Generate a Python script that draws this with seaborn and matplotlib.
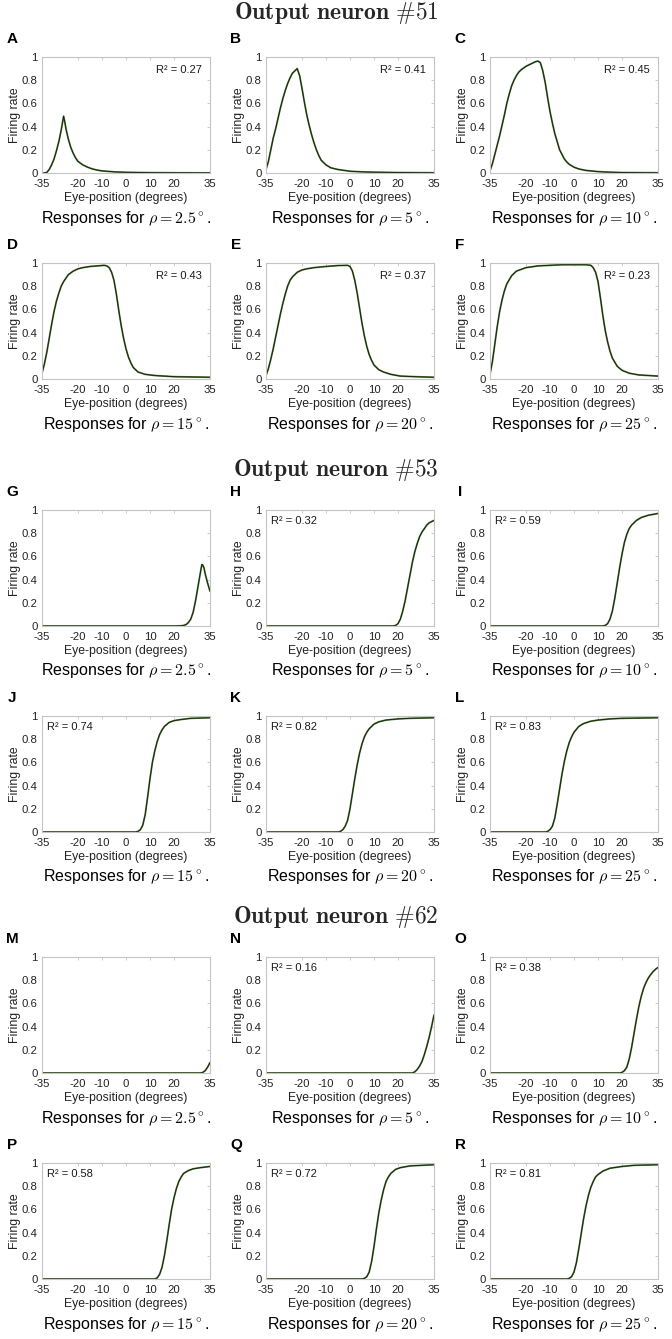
import matplotlib
matplotlib.use("Agg")
import matplotlib.pyplot as plt
import seaborn as sns

# figure size in pixels
W, H = 672, 1339

neurons = ["51", "53", "62"]
rhos = ["2.5", "5", "10", "15", "20", "25"]
letters = list("ABCDEFGHIJKLMNOPQR")
r2_values = [0.27, 0.41, 0.45, 0.43, 0.37, 0.23,
             None, 0.32, 0.59, 0.74, 0.82, 0.83,
             None, 0.16, 0.38, 0.58, 0.72, 0.81]
xticks = [-35, -20, -10, 0, 10, 20, 35]
yticks = [0, 0.2, 0.4, 0.6, 0.8, 1]

# ---- neuron 51 ----
a_x = [-35, -34, -33, -32, -31, -30, -29, -28, -27, -26.5, -26, -25.5, -25, -24, -23, -22, -21, -20, -18, -16, -14, -12, -10, -5, 0, 10, 20, 35]
a_y = [0, 0, 0.005, 0.03, 0.07, 0.12, 0.19, 0.27, 0.37, 0.43, 0.49, 0.44, 0.38, 0.29, 0.22, 0.17, 0.13, 0.10, 0.07, 0.05, 0.035, 0.025, 0.018, 0.01, 0.006, 0.003, 0.002, 0.001]

b_x = [-35, -34, -33, -32, -31, -30, -29, -28, -27, -26, -25, -24, -23, -22, -21, -20, -19, -18, -17, -16, -15, -14, -13, -12, -10, -8, -5, 0, 5, 10, 20, 35]
b_y = [0.03, 0.1, 0.2, 0.3, 0.38, 0.47, 0.56, 0.64, 0.71, 0.77, 0.82, 0.86, 0.88, 0.9, 0.84, 0.73, 0.61, 0.5, 0.41, 0.33, 0.26, 0.2, 0.15, 0.11, 0.07, 0.045, 0.03, 0.015, 0.01, 0.007, 0.004, 0.002]

c_x = [-35, -34, -33, -32, -31, -30, -29, -28, -27, -26, -25, -24, -23, -22, -20, -18, -16, -15, -14, -13, -12, -11, -10, -9, -8, -7, -6, -5, -4, -3, -2, 0, 2, 5, 10, 15, 20, 35]
c_y = [0.02, 0.08, 0.16, 0.24, 0.32, 0.41, 0.5, 0.6, 0.68, 0.75, 0.8, 0.84, 0.87, 0.89, 0.92, 0.94, 0.96, 0.965, 0.95, 0.88, 0.78, 0.65, 0.53, 0.43, 0.34, 0.27, 0.2, 0.16, 0.12, 0.095, 0.075, 0.05, 0.035, 0.022, 0.012, 0.007, 0.004, 0.002]

d_x = [-35, -34, -33, -32, -31, -30, -29, -28, -27, -26, -24, -22, -20, -18, -15, -12, -9, -8, -7, -6, -5, -4, -3, -2, -1, 0, 1, 2, 3, 5, 8, 12, 20, 35]
d_y = [0.05, 0.13, 0.23, 0.35, 0.47, 0.58, 0.67, 0.74, 0.8, 0.84, 0.9, 0.93, 0.95, 0.96, 0.97, 0.975, 0.98, 0.975, 0.96, 0.92, 0.85, 0.73, 0.59, 0.46, 0.35, 0.26, 0.19, 0.14, 0.1, 0.06, 0.04, 0.03, 0.02, 0.015]

e_x = [-35, -34, -33, -32, -31, -30, -29, -28, -27, -26, -25, -24, -22, -20, -18, -15, -10, -5, -1, 0, 1, 2, 3, 4, 5, 6, 7, 8, 9, 10, 11, 12, 14, 17, 21, 27, 35]
e_y = [0.03, 0.09, 0.17, 0.26, 0.36, 0.46, 0.56, 0.65, 0.73, 0.8, 0.85, 0.88, 0.92, 0.94, 0.95, 0.96, 0.97, 0.978, 0.98, 0.97, 0.93, 0.85, 0.74, 0.61, 0.48, 0.37, 0.28, 0.21, 0.16, 0.12, 0.1, 0.08, 0.06, 0.04, 0.025, 0.02, 0.015]

f_x = [-35, -34, -33, -32, -31, -30, -29, -28, -26, -24, -20, -15, -5, 5, 7, 8, 9, 10, 11, 12, 13, 14, 15, 16, 18, 20, 23, 27, 31, 35]
f_y = [0.04, 0.15, 0.3, 0.45, 0.58, 0.68, 0.76, 0.82, 0.89, 0.93, 0.96, 0.975, 0.985, 0.985, 0.98, 0.96, 0.92, 0.84, 0.7, 0.55, 0.42, 0.32, 0.24, 0.18, 0.11, 0.075, 0.05, 0.035, 0.03, 0.025]

# ---- neuron 53 ----
g_x = [-35, 20, 23, 24, 25, 26, 27, 28, 29, 30, 31, 31.6, 32, 32.5, 33, 34, 35]
g_y = [0, 0, 0.002, 0.005, 0.012, 0.03, 0.06, 0.12, 0.22, 0.34, 0.46, 0.53, 0.525, 0.5, 0.45, 0.37, 0.3]

h_x = [-35, 18, 19, 20, 21, 22, 23, 24, 25, 26, 27, 28, 29, 30, 31, 32, 33, 34, 35]
h_y = [0, 0, 0.005, 0.02, 0.06, 0.13, 0.22, 0.33, 0.44, 0.55, 0.64, 0.71, 0.77, 0.81, 0.84, 0.87, 0.89, 0.9, 0.91]

i_x = [-35, 12, 13, 14, 15, 16, 17, 18, 19, 20, 21, 22, 23, 24, 26, 28, 31, 35]
i_y = [0, 0, 0.005, 0.02, 0.06, 0.13, 0.24, 0.37, 0.5, 0.62, 0.72, 0.79, 0.84, 0.87, 0.91, 0.935, 0.955, 0.97]

j_x = [-35, 4, 5, 6, 7, 8, 9, 10, 11, 12, 13, 14, 15, 16, 18, 20, 23, 27, 35]
j_y = [0, 0, 0.005, 0.02, 0.06, 0.15, 0.3, 0.46, 0.6, 0.7, 0.78, 0.84, 0.88, 0.91, 0.945, 0.96, 0.97, 0.98, 0.985]

k_x = [-35, -5, -4, -3, -2, -1, 0, 1, 2, 3, 4, 5, 6, 7, 8, 10, 12, 15, 20, 25, 35]
k_y = [0, 0, 0.005, 0.02, 0.05, 0.1, 0.2, 0.33, 0.46, 0.58, 0.68, 0.76, 0.82, 0.86, 0.89, 0.93, 0.95, 0.965, 0.975, 0.98, 0.985]

l_x = [-35, -12, -11, -10, -9, -8, -7, -6, -5, -4, -3, -2, -1, 0, 2, 4, 7, 10, 15, 20, 35]
l_y = [0, 0, 0.005, 0.02, 0.05, 0.12, 0.24, 0.37, 0.5, 0.61, 0.7, 0.77, 0.82, 0.86, 0.91, 0.935, 0.955, 0.965, 0.975, 0.98, 0.985]

# ---- neuron 62 ----
m_x = [-35, 31, 32, 33, 34, 35]
m_y = [0, 0, 0.005, 0.02, 0.05, 0.09]

n_x = [-35, 26, 27, 28, 29, 30, 31, 32, 33, 34, 35]
n_y = [0, 0, 0.01, 0.03, 0.06, 0.1, 0.16, 0.23, 0.31, 0.4, 0.5]

o_x = [-35, 19, 20, 21, 22, 23, 24, 25, 26, 27, 28, 29, 30, 31, 32, 33, 34, 35]
o_y = [0, 0, 0.005, 0.02, 0.05, 0.12, 0.22, 0.34, 0.46, 0.57, 0.66, 0.73, 0.78, 0.82, 0.85, 0.875, 0.895, 0.91]

p_x = [-35, 12, 13, 14, 15, 16, 17, 18, 19, 20, 21, 22, 23, 24, 26, 28, 31, 35]
p_y = [0, 0, 0.01, 0.04, 0.1, 0.2, 0.33, 0.47, 0.6, 0.7, 0.78, 0.84, 0.88, 0.91, 0.935, 0.95, 0.96, 0.97]

q_x = [-35, 5, 6, 7, 8, 9, 10, 11, 12, 13, 14, 15, 16, 17, 19, 21, 25, 30, 35]
q_y = [0, 0, 0.005, 0.02, 0.06, 0.15, 0.28, 0.43, 0.57, 0.68, 0.77, 0.84, 0.88, 0.91, 0.945, 0.96, 0.975, 0.98, 0.985]

r_x = [-35, -3, -2, -1, 0, 1, 2, 3, 4, 5, 6, 7, 8, 9, 10, 12, 15, 20, 25, 35]
r_y = [0, 0, 0.005, 0.02, 0.06, 0.14, 0.26, 0.39, 0.52, 0.63, 0.72, 0.79, 0.84, 0.88, 0.9, 0.93, 0.955, 0.97, 0.98, 0.985]

curves = [(a_x, a_y), (b_x, b_y), (c_x, c_y), (d_x, d_y), (e_x, e_y), (f_x, f_y),
          (g_x, g_y), (h_x, h_y), (i_x, i_y), (j_x, j_y), (k_x, k_y), (l_x, l_y),
          (m_x, m_y), (n_x, n_y), (o_x, o_y), (p_x, p_y), (q_x, q_y), (r_x, r_y)]

sns.set_theme(style="white")
plt.rcParams['font.family'] = ['Liberation Sans', 'DejaVu Sans']
plt.rcParams['mathtext.fontset'] = 'cm'
plt.rcParams['axes.unicode_minus'] = False

fig = plt.figure(figsize=(W / 100, H / 100), dpi=100)

col_left = [42, 266, 490]
row_top = [57, 263, 510, 716, 957, 1163]
title_y = [13, 470, 917]
ax_w, ax_h = 168, 116
frame = '#c4c4c4'
text_col = '#222222'

for g, neuron in enumerate(neurons):
    fig.text(0.5, 1 - title_y[g] / H, r'$\mathbf{Output\ neuron\ \#' + neuron + '}$',
             ha='center', va='center', fontsize=17)

for i, (xs, ys) in enumerate(curves):
    g, k = divmod(i, 6)
    r, c = divmod(k, 3)
    left, top = col_left[c], row_top[g * 2 + r]
    ax = fig.add_axes([left / W, 1 - (top + ax_h) / H, ax_w / W, ax_h / H])

    sns.lineplot(x=xs, y=ys, ax=ax, color='#5d8a45', lw=1.3, sort=False)
    sns.lineplot(x=xs, y=ys, ax=ax, color='#18220f', lw=0.7, sort=False)

    ax.set_xlim(-35, 35)
    ax.set_ylim(0, 1)
    ax.set_xticks(xticks)
    ax.set_xticklabels([str(t) for t in xticks])
    ax.set_yticks(yticks)
    ax.set_yticklabels(['0', '0.2', '0.4', '0.6', '0.8', '1'])
    ax.tick_params(axis='both', direction='in', length=2.5, width=0.6, color=frame,
                   top=True, right=True, labelsize=8.2, labelcolor=text_col)
    ax.tick_params(axis='x', pad=4)
    ax.tick_params(axis='y', pad=3)
    for s in ax.spines.values():
        s.set_color(frame)
        s.set_linewidth(0.8)
    ax.set_xlabel('Eye-position (degrees)', fontsize=8.8, color=text_col)
    ax.set_ylabel('Firing rate', fontsize=8.8, color=text_col)
    ax.xaxis.set_label_coords(0.5, -19 / ax_h)
    ax.yaxis.set_label_coords(-21 / ax_w, 0.5)

    r2 = r2_values[i]
    if r2 is not None:
        if g == 0:
            ax.text(1 - 8 / ax_w, 1 - 13 / ax_h, f'R² = {r2:.2f}', transform=ax.transAxes,
                    ha='right', va='center', fontsize=8, color='#1a1a1a')
        else:
            ax.text(5 / ax_w, 1 - 11 / ax_h, f'R² = {r2:.2f}', transform=ax.transAxes,
                    ha='left', va='center', fontsize=8, color='#1a1a1a')

    fig.text((left - 30) / W, 1 - (top - 18) / H, letters[i], ha='center', va='center',
             fontsize=11, fontweight='bold', color='black')
    fig.text((left + ax_w / 2) / W, 1 - (top + ax_h + 45) / H,
             r'Responses for $\rho = ' + rhos[k] + r'^\circ$.',
             ha='center', va='center', fontsize=11.5, color='black')

fig.savefig('out.png', dpi=100, facecolor='white')
